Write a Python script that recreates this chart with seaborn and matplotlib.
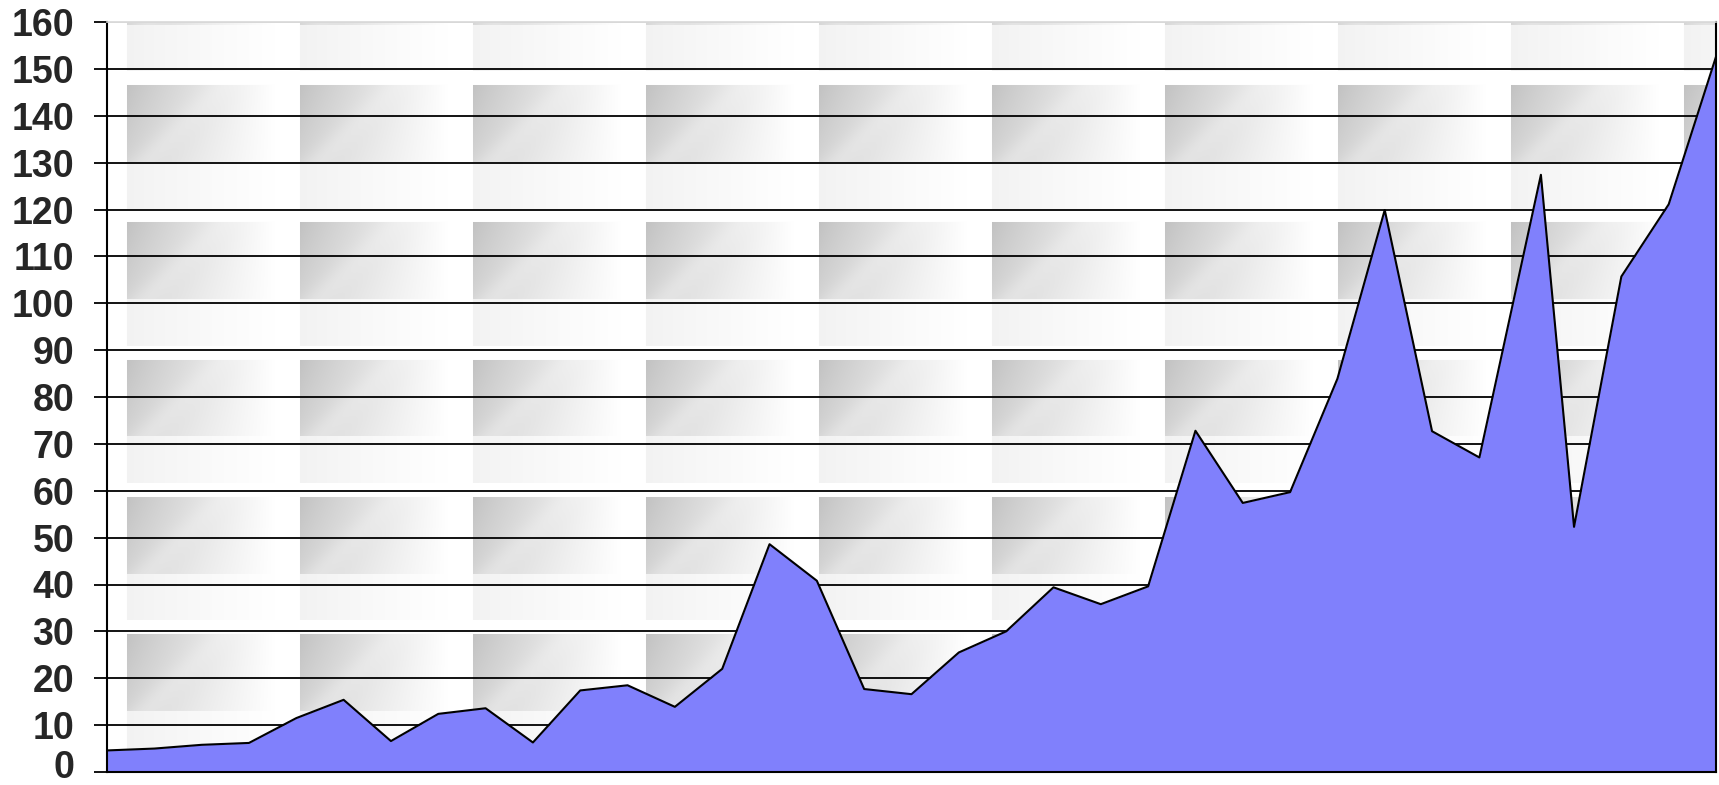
import numpy as np
import pandas as pd
import seaborn as sns
import matplotlib.pyplot as plt
from matplotlib.transforms import ScaledTranslation

# values (x is the category position, one point sits off-grid)
x_pos = [0, 1, 2, 3, 4, 5, 6, 7, 8, 9, 10, 11, 12, 13, 14, 15, 16, 17, 18, 19,
         20, 21, 22, 23, 24, 25, 26, 27, 28, 29, 30.3, 31, 32, 33, 34]
values = [4.6, 5.0, 5.8, 6.2, 11.5, 15.4, 6.6, 12.4, 13.6, 6.3,
          17.4, 18.5, 13.9, 22.0, 48.6, 40.8, 17.7, 16.6, 25.5, 30.0,
          39.4, 35.8, 39.6, 72.8, 57.4, 59.7, 83.9, 119.9, 72.7, 67.1,
          127.4, 52.3, 105.7, 121.1, 152.6]
y_ticks = list(range(0, 161, 10))

df = pd.DataFrame({"x": x_pos, "value": values})

sns.set_style("white")
plt.rcParams["font.family"] = ["Liberation Sans", "DejaVu Sans"]

W_PX, H_PX = 1719, 785
fig = plt.figure(figsize=(W_PX / 100, H_PX / 100), dpi=100)
left, right, top, bottom = 107, 1716, 22, 772
ax = fig.add_axes([left / W_PX, (H_PX - bottom) / H_PX,
                   (right - left) / W_PX, (bottom - top) / H_PX])

# tiled grey gradient texture behind the plot (like the office-style fill)
pw, ph = right - left, bottom - top
px = np.arange(pw)[None, :]
py = np.arange(ph)[:, None]
tw, th = 173.0, 137.2
u = ((px - 20) % tw) / tw
v = ((py - 62.7) % th) / th
ramp = np.clip(u / 0.85, 0, 1) ** 0.9
vv = np.clip(v / 0.56, 0, 1)
grey = 0.76 + 0.24 * ramp + 0.07 * vv * (1 - ramp)
streak = np.exp(-((u + 0.45 * vv - 0.55) / 0.1) ** 2) * (1 - ramp)
grey = np.clip(grey + 0.04 * streak, 0, 1)
light = 0.95 + 0.05 * ramp
tex = np.where(v < 0.56, grey, np.where(v < 0.9, light, 1.0))
tex = np.broadcast_to(tex, (ph, pw))
ax.imshow(np.dstack([tex, tex, tex]), extent=[0, 34, 0, 160], aspect="auto",
          origin="upper", interpolation="bilinear", zorder=0)

# area + outline
ax.fill_between(df["x"], df["value"], 0, color="#8080fc", linewidth=0, zorder=2)
sns.lineplot(data=df, x="x", y="value", ax=ax, color="black", linewidth=1.5,
             sort=False, zorder=3)

ax.set_xlim(0, 34)
ax.set_ylim(0, 160)
ax.set_yticks(y_ticks)
ax.set_xticks([])
ax.set_xlabel("")
ax.set_ylabel("")

ax.set_axisbelow(True)
ax.yaxis.grid(True, color="black", linewidth=1.3, zorder=1)
ax.xaxis.grid(False)
for gl in ax.yaxis.get_gridlines():
    gl.set_zorder(1)
ax.yaxis.get_gridlines()[-1].set_color("#d8d8d8")

ax.tick_params(axis="y", direction="out", length=9.5, width=1.3, color="black",
               pad=14, labelsize=27, left=True)
for lab in ax.get_yticklabels():
    lab.set_fontweight("bold")
# keep the bottom "0" inside the canvas
zero_lab = ax.get_yticklabels()[0]
zero_lab.set_transform(zero_lab.get_transform() +
                       ScaledTranslation(0, 8 / 100, fig.dpi_scale_trans))

for side in ["left", "bottom"]:
    ax.spines[side].set_color("black")
    ax.spines[side].set_linewidth(1.5)
ax.spines["top"].set_color("#d8d8d8")
ax.spines["top"].set_linewidth(1.2)
ax.spines["right"].set_color("black")
ax.spines["right"].set_linewidth(1.5)
for sp in ax.spines.values():
    sp.set_zorder(4)

fig.savefig("out.png", dpi=100)
